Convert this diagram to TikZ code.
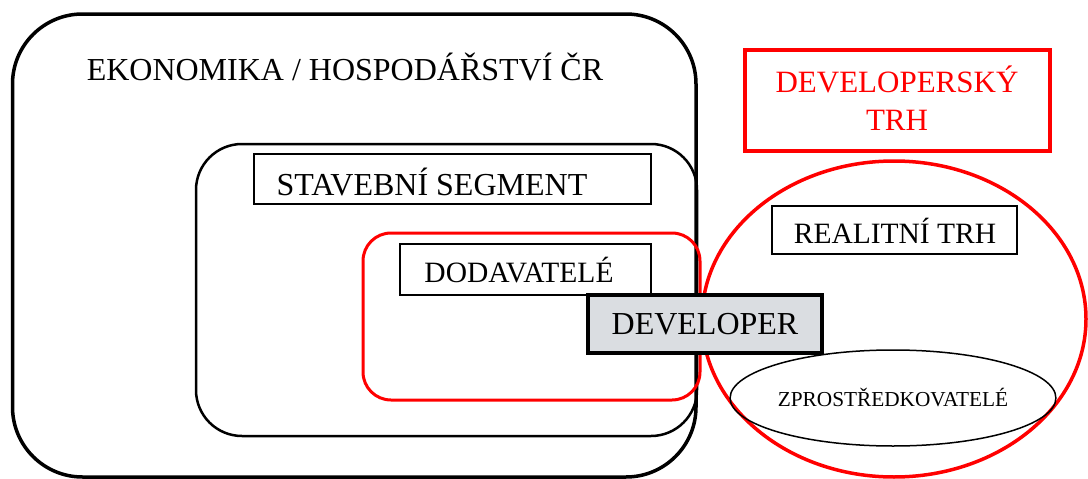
\documentclass[tikz,border=0pt]{standalone}
\usepackage{fontspec}
\setmainfont{Liberation Serif}
\usetikzlibrary{shapes.geometric}
\definecolor{devred}{RGB}{255,0,0}
\definecolor{devfill}{RGB}{218,221,225}
\tikzset{
  every node/.style={inner sep=0pt, outer sep=0pt},
  plainbox/.style={draw=black, line width=1.5pt, fill=white},
  lbl/.style={font=\fontsize{32}{36}\selectfont, anchor=center},
}
\begin{document}
\begin{tikzpicture}[x=1pt,y=-1pt]
\useasboundingbox (0,0) rectangle (1088,479);
\begin{scope}
\clip (0,0) rectangle (1088,479);
% outer economy box
\draw[line width=3.5pt, rounded corners=70pt] (12.5,14) rectangle (696,477);
\node[lbl] (eko) at (345,67) {EKONOMIKA / HOSPODÁŘSTVÍ ČR};
% construction segment
\draw[line width=2.5pt, rounded corners=46pt] (196,144) rectangle (697,436);
\node[plainbox, minimum width=397pt, minimum height=50pt, anchor=north west] (stavbox) at (254,154) {};
\node[lbl] (stav) at (432,182) {STAVEBNÍ SEGMENT};
% suppliers (red)
\draw[devred, line width=3pt, rounded corners=28pt] (363,233) rectangle (700,400);
\node[plainbox, minimum width=251pt, minimum height=51pt, anchor=north west] (dodbox) at (400,244) {};
\node[lbl, font=\fontsize{29.5}{34}\selectfont] (dod) at (519,270) {DODAVATELÉ};
% developer market
\node[draw=devred, line width=4pt, minimum width=305pt, minimum height=101pt, anchor=north west] (devtrh) at (745,50) {};
\node[text=devred, font=\fontsize{31}{38}\selectfont, align=center] (devtrhtxt) at (897,98) {DEVELOPERSKÝ\\TRH};
% real-estate market ellipse
\node[ellipse, draw=devred, line width=3.5pt, minimum width=384pt, minimum height=316pt] (realell) at (894,319) {};
\node[plainbox, minimum width=245pt, minimum height=48pt, anchor=north west] (realbox) at (772,206) {};
\node[lbl, font=\fontsize{29.5}{34}\selectfont] (real) at (895,231) {REALITNÍ TRH};
% intermediaries
\node[ellipse, draw=black, line width=1.5pt, minimum width=316pt, minimum height=96pt,
      font=\fontsize{21.3}{25}\selectfont] (zpro) at (893,398) {ZPROSTŘEDKOVATELÉ};
% developer
\node[draw=black, line width=4.5pt, fill=devfill, minimum width=234pt, minimum height=58pt,
      font=\fontsize{32}{36}\selectfont] (dev) at (705,324) {DEVELOPER};
\end{scope}
\end{tikzpicture}
\end{document}
